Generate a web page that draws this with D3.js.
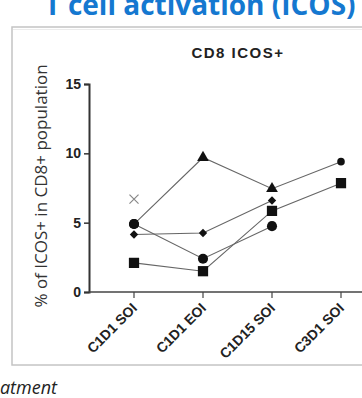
<!DOCTYPE html>
<html>
<head>
<meta charset="utf-8">
<script src="https://cdn.jsdelivr.net/npm/d3@7"></script>
<style>
  body { margin: 0; background: #fff; }
  svg { display: block; }
</style>
</head>
<body>
<div id="chart"></div>
<script>
// values
var categories = ['C1D1 SOI', 'C1D1 EOI', 'C1D15 SOI', 'C3D1 SOI'],
    yTicks = [0, 5, 10, 15],
    circleSeries = [4.9, 2.4, 4.75, null],
    triangleSeries = [4.9, 9.7, 7.45, 9.4],
    diamondSeries = [4.15, 4.25, 6.6, null],
    squareSeries = [2.1, 1.5, 5.85, 7.85],
    crossSeries = [6.7, null, null, null];

var width = 362,
    height = 398,
    svg = d3.select('#chart').append('svg')
        .attr('width', width)
        .attr('height', height);

// page heading, mostly cut off at the top
svg.append('text')
    .attr('x', 200)
    .attr('y', 15)
    .attr('text-anchor', 'middle')
    .attr('font-family', '"Open Sans", sans-serif')
    .attr('font-weight', 'bold')
    .attr('font-size', 28)
    .attr('fill', '#1578d0')
    .text('T cell activation (ICOS)');

// panel frame
svg.append('rect')
    .attr('x', 12).attr('y', 27)
    .attr('width', 360).attr('height', 338)
    .attr('fill', '#fff')
    .attr('stroke', '#c4c4c4')
    .attr('stroke-width', 1.5);
svg.append('line')
    .attr('x1', 13).attr('x2', 362)
    .attr('y1', 29.5).attr('y2', 29.5)
    .attr('stroke', '#ececec');

svg.append('text')
    .attr('x', 57)
    .attr('y', 394)
    .attr('text-anchor', 'end')
    .attr('font-family', '"Open Sans", sans-serif')
    .attr('font-style', 'italic')
    .attr('font-size', 18)
    .attr('fill', '#222')
    .text('Treatment');

var x = d3.scalePoint().domain(categories).range([134, 341]),
    y = d3.scaleLinear().domain([0, 15]).range([292, 84]);

// chart title
svg.append('text')
    .attr('x', 238)
    .attr('y', 58)
    .attr('text-anchor', 'middle')
    .attr('font-family', '"Liberation Sans", Arial, sans-serif')
    .attr('font-weight', 'bold')
    .attr('font-size', 15)
    .attr('letter-spacing', 1.5)
    .attr('fill', '#222')
    .text('CD8 ICOS+');

// y axis
var yAxis = svg.append('g')
    .attr('transform', 'translate(89,0)')
    .call(d3.axisLeft(y).tickValues(yTicks).tickSize(5).tickPadding(3));
yAxis.select('.domain').attr('stroke', '#333').attr('stroke-width', 2);
yAxis.selectAll('.tick line').attr('stroke', '#333').attr('stroke-width', 1.5);
yAxis.selectAll('.tick text')
    .attr('font-family', '"Liberation Sans", Arial, sans-serif')
    .attr('font-weight', 'bold')
    .attr('font-size', 14)
    .attr('fill', '#222');

svg.append('text')
    .attr('transform', 'translate(47,186) rotate(-90)')
    .attr('text-anchor', 'middle')
    .attr('font-family', '"Open Sans", sans-serif')
    .attr('font-size', 17)
    .attr('fill', '#333')
    .text('% of ICOS+ in CD8+ population');

// x axis
var xAxisG = svg.append('g')
    .attr('transform', 'translate(0,292)');
xAxisG.append('line')
    .attr('x1', 89).attr('x2', 362)
    .attr('stroke', '#444').attr('stroke-width', 1.5);
xAxisG.selectAll('.xtick')
    .data(categories)
    .enter().append('line')
    .attr('x1', function (d) { return x(d); })
    .attr('x2', function (d) { return x(d); })
    .attr('y1', 0).attr('y2', 6)
    .attr('stroke', '#444').attr('stroke-width', 1.2);
xAxisG.selectAll('.xlabel')
    .data(categories)
    .enter().append('text')
    .attr('transform', function (d) { return 'translate(' + (x(d) + 4) + ',17) rotate(-45)'; })
    .attr('text-anchor', 'end')
    .attr('font-family', '"Liberation Sans", Arial, sans-serif')
    .attr('font-weight', 'bold')
    .attr('font-size', 14)
    .attr('fill', '#222')
    .text(function (d) { return d; });

// patients
var series = [
    { values: circleSeries, symbols: ['circle', 'circle', 'circle'], size: 80 },
    { values: triangleSeries, symbols: ['circle', 'triangle', 'triangle', 'smallcircle'], size: 60 },
    { values: diamondSeries, symbols: ['diamond', 'diamond', 'diamond'], size: 45 },
    { values: squareSeries, symbols: ['square', 'square', 'square', 'square'], size: 105 },
    { values: crossSeries, symbols: ['cross'], size: 55 }
];

var symbolTypes = {
    circle: d3.symbolCircle,
    smallcircle: d3.symbolCircle,
    triangle: d3.symbolTriangle,
    diamond: d3.symbolDiamond2,
    square: d3.symbolSquare,
    cross: d3.symbolTimes
};

var line = d3.line()
    .defined(function (d) { return d !== null; })
    .x(function (d, i) { return x(categories[i]); })
    .y(function (d) { return y(d); });

svg.selectAll('.serieslines')
    .data(series)
    .enter().append('path')
    .attr('d', function (s) { return line(s.values); })
    .attr('fill', 'none')
    .attr('stroke', '#666')
    .attr('stroke-width', 1.1);

series.forEach(function (s) {
    var pts = [];
    s.values.forEach(function (v, i) {
        if (v !== null) {
            pts.push({ v: v, i: i, sym: s.symbols[i] });
        }
    });
    svg.append('g').selectAll('path')
        .data(pts)
        .enter().append('path')
        .attr('transform', function (d) {
            return 'translate(' + x(categories[d.i]) + ',' + y(d.v) + ')';
        })
        .attr('d', function (d) {
            var sz = s.size;
            if (d.sym === 'smallcircle') { sz = 45; }
            if (d.sym === 'circle') { sz = 80; }
            return d3.symbol().type(symbolTypes[d.sym]).size(sz)();
        })
        .attr('fill', function (d) { return d.sym === 'cross' ? 'none' : '#111'; })
        .attr('stroke', function (d) { return d.sym === 'cross' ? '#888' : 'none'; })
        .attr('stroke-width', 1.2);
});
</script>
</body>
</html>
